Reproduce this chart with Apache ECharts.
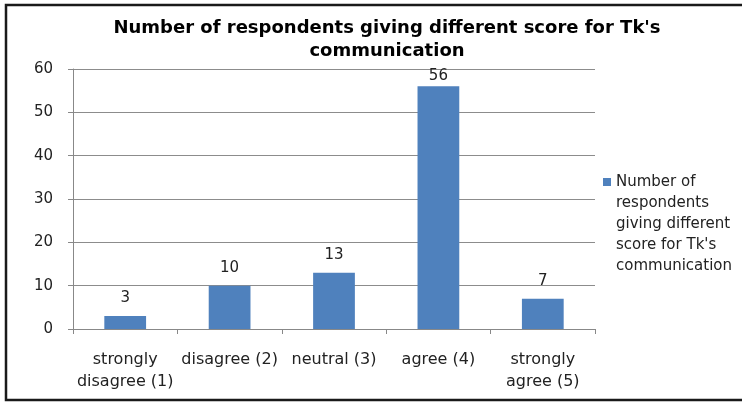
<!DOCTYPE html>
<html><head><meta charset="utf-8">
<script src="https://cdn.jsdelivr.net/npm/echarts@6/dist/echarts.min.js"></script>
<style>html,body{margin:0;padding:0;background:#fff;overflow:hidden}#c{width:742px;height:403px}</style>
</head><body><div id="c"></div>
<script>
const categories = ['strongly\ndisagree (1)', 'disagree (2)', 'neutral (3)', 'agree (4)', 'strongly\nagree (5)'];
const values = [3, 10, 13, 56, 7];
const yTicks = [0, 10, 20, 30, 40, 50, 60];
const seriesName = "Number of respondents giving different score for Tk's communication";
const titleText = "Number of respondents giving different score for Tk's\ncommunication";
const legendLines = ['Number of', 'respondents', 'giving different', "score for Tk's", 'communication'];

const FONT = 'DejaVu Sans';
const chart = echarts.init(document.getElementById('c'), null, {renderer: 'canvas'});
const maxV = Math.max(...values);
chart.setOption({
  animation: false,
  backgroundColor: '#fff',
  title: {
    text: titleText,
    left: 382, top: 12, textAlign: 'center',
    textStyle: {fontFamily: FONT, fontWeight: 'bold', fontSize: 18, lineHeight: 23, color: '#000'}
  },
  legend: {
    orient: 'vertical', left: 598, top: 117,
    itemWidth: 8, itemHeight: 8, itemGap: 0,
    icon: 'rect',
    data: [seriesName],
    formatter: () => '{sp| }\n' + legendLines.map(l => '{t|' + l + '}').join('\n'),
    textStyle: {
      fontFamily: FONT, fontSize: 15, color: '#222',
      rich: {
        sp: {lineHeight: 84, fontSize: 15},
        t: {fontFamily: FONT, fontSize: 15, lineHeight: 21, color: '#222'}
      }
    }
  },
  grid: {left: 73, right: 147, top: 69, bottom: 74, containLabel: false},
  xAxis: {
    type: 'category', data: categories,
    axisLine: {lineStyle: {color: '#888', width: 1}},
    axisTick: {show: true, length: 5, alignWithLabel: false, lineStyle: {color: '#888'}},
    axisLabel: {fontFamily: FONT, fontSize: 16, lineHeight: 22, color: '#222', margin: 20, interval: 0}
  },
  yAxis: {
    type: 'value', min: yTicks[0], max: yTicks[yTicks.length - 1], interval: 10,
    axisLine: {show: true, lineStyle: {color: '#888', width: 1}},
    axisTick: {show: true, length: 5, lineStyle: {color: '#888'}},
    splitLine: {lineStyle: {color: '#8c8c8c', width: 1}},
    axisLabel: {fontFamily: FONT, fontSize: 15, color: '#222', margin: 20}
  },
  series: [{
    name: seriesName, type: 'bar', barWidth: '40%',
    itemStyle: {color: '#4F81BD'},
    label: {show: true, position: 'top', distance: 10, fontFamily: FONT, fontSize: 15, color: '#222'},
    data: values.map(v => v === maxV ? {value: v, label: {distance: 3}} : v)
  }],
  graphic: [{
    type: 'polyline', z: 100, silent: true,
    shape: {points: [[760, 5], [6, 5], [6, 400], [760, 400]]},
    style: {fill: 'none', stroke: '#1a1a1a', lineWidth: 2.5}
  }]
});
</script></body></html>
